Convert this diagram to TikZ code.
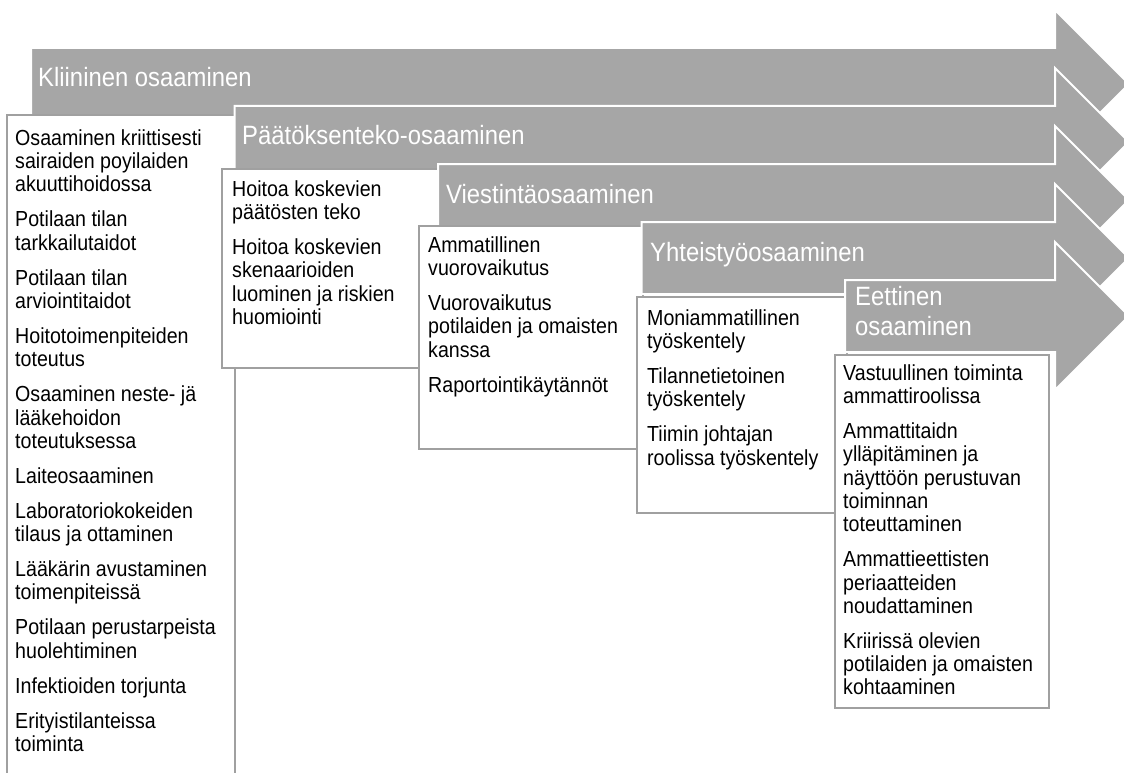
\documentclass[tikz,border=0pt]{standalone}
\usepackage{fontspec}
\setmainfont[FakeStretch=0.9]{Liberation Sans}
\definecolor{ag}{RGB}{166,166,166}
\definecolor{bd}{RGB}{160,160,160}
\tikzset{
  arrowshape/.style={fill=ag, draw=white, line width=2pt, line join=miter},
  itembox/.style={fill=white, draw=bd, line width=1.8pt},
  titletext/.style={text=white, inner sep=0pt, font=\fontsize{26.5}{30}\selectfont, align=left},
  bodytext/.style={text=black, inner sep=0pt, font=\fontsize{21.8}{23.3}\selectfont, align=left, anchor=north west},
}
\newcommand{\pg}{\\[11.7pt]}
\begin{document}
\begin{tikzpicture}[x=1pt,y=-1pt]
\useasboundingbox (0,0) rectangle (1124,773);
\clip (0,0) rectangle (1124,773);

% ---- stage 1
\draw[arrowshape] (31,48) -- (1055,48) -- (1055,10) -- (1129,84) -- (1055,158) -- (1055,120) -- (31,120) -- cycle;
\draw[itembox] (7,115) rectangle (235,800);
\node[titletext, anchor=base west] (t1) at (38,87) {Kliininen osaaminen};
\node[bodytext] (b1) at (15,128.7) {\strut Osaaminen kriittisesti\\sairaiden poyilaiden\\akuuttihoidossa\pg
Potilaan tilan\\tarkkailutaidot\pg
Potilaan tilan\\arviointitaidot\pg
Hoitotoimenpiteiden\\toteutus\pg
Osaaminen neste- jä\\lääkehoidon\\toteutuksessa\pg
Laiteosaaminen\pg
Laboratoriokokeiden\\tilaus ja ottaminen\pg
Lääkärin avustaminen\\toimenpiteissä\pg
Potilaan perustarpeista\\huolehtiminen\pg
Infektioiden torjunta\pg
Erityistilanteissa\\toiminta};

% ---- stage 2
\draw[arrowshape] (234.5,106) -- (1055,106) -- (1055,68) -- (1129,142) -- (1055,216) -- (1055,178) -- (234.5,178) -- cycle;
\draw[itembox] (222,169) rectangle (440,368);
\node[titletext, anchor=base west] (t2) at (242,145) {Päätöksenteko-osaaminen};
\node[bodytext] (b2) at (232,179.7) {\strut Hoitoa koskevien\\päätösten teko\pg
Hoitoa koskevien\\skenaarioiden\\luominen ja riskien\\huomiointi};

% ---- stage 3
\draw[arrowshape] (438,164) -- (1055,164) -- (1055,126) -- (1129,200) -- (1055,274) -- (1055,236) -- (438,236) -- cycle;
\draw[itembox] (419,226) rectangle (643,449);
\node[titletext, anchor=base west] (t3) at (446,203) {Viestintäosaaminen};
\node[bodytext] (b3) at (428,235.7) {\strut Ammatillinen\\vuorovaikutus\pg
Vuorovaikutus\\potilaiden ja omaisten\\kanssa\pg
Raportointikäytännöt};

% ---- stage 4
\draw[arrowshape] (641.5,222) -- (1055,222) -- (1055,184) -- (1129,258) -- (1055,332) -- (1055,294) -- (641.5,294) -- cycle;
\draw[itembox] (637,297) rectangle (847,513);
\node[titletext, anchor=base west] (t4) at (650,261) {Yhteistyöosaaminen};
\node[bodytext] (b4) at (647,308.7) {\strut Moniammatillinen\\työskentely\pg
Tilannetietoinen\\työskentely\pg
Tiimin johtajan\\roolissa työskentely};

% ---- stage 5
\draw[arrowshape] (845,280) -- (1055,280) -- (1055,242) -- (1129,316) -- (1055,390) -- (1055,352) -- (845,352) -- cycle;
\draw[itembox] (835,355) rectangle (1049,708);
\node[titletext, anchor=north west] (t5) at (855,284) {\strut Eettinen\\osaaminen};
\node[bodytext] (b5) at (843,363.7) {\strut Vastuullinen toiminta\\ammattiroolissa\pg
Ammattitaidn\\ylläpitäminen ja\\näyttöön perustuvan\\toiminnan\\toteuttaminen\pg
Ammattieettisten\\periaatteiden\\noudattaminen\pg
Kriirissä olevien\\potilaiden ja omaisten\\kohtaaminen};
\end{tikzpicture}
\end{document}
